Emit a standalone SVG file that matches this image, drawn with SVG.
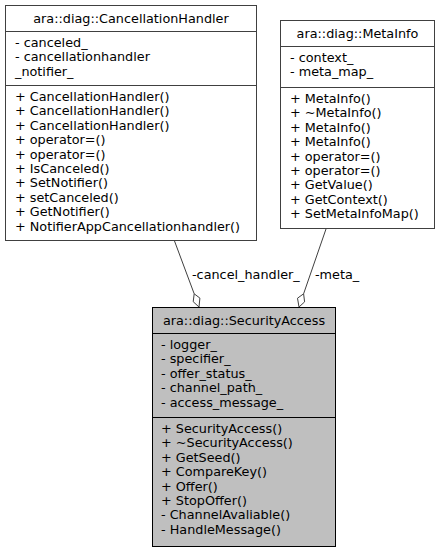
<svg xmlns="http://www.w3.org/2000/svg" width="440" height="551" viewBox="0 0 440 551">
<style>
text{font-family:"DejaVu Sans","Liberation Sans",sans-serif;font-size:12.8px;fill:#000}
.t{text-anchor:middle}
.box{fill:#fff;stroke:#404040;stroke-width:1}
.cur{fill:#bfbfbf;stroke:#000;stroke-width:1}
.sep{stroke:#404040;stroke-width:1}
.sepc{stroke:#000;stroke-width:1}
.edge{stroke:#404040;stroke-width:1;fill:none}
.dia{fill:#fff;stroke:#404040;stroke-width:1}
</style>
<rect width="440" height="551" fill="#fff"/>
<g id="connectors">
<path class="edge" d="M174.5,241 L194.2,293.8"/>
<path class="dia" d="M199,307 L199.9,298.1 L194.2,293.8 L193.2,301.7 Z"/>
<text x="192" y="279">-cancel_handler_</text>
<path class="edge" d="M326,229 L303.6,293.8"/>
<path class="dia" d="M299,307 L297.5,298.2 L303.6,293.8 L304.6,301.9 Z"/>
<text x="315" y="279">-meta_</text>
</g>
<g id="CancellationHandler">
<rect class="box" x="5.5" y="5.5" width="251" height="235"/>
<line class="sep" x1="5.5" y1="31.5" x2="256.5" y2="31.5"/>
<line class="sep" x1="5.5" y1="85.5" x2="256.5" y2="85.5"/>
<text class="t" x="131" y="23">ara::diag::CancellationHandler</text>
<text x="15" y="47">- canceled_</text>
<text x="15" y="61.4">- cancellationhandler</text>
<text x="15" y="75.8">_notifier_</text>
<text x="15" y="101">+ CancellationHandler()</text>
<text x="15" y="115.4">+ CancellationHandler()</text>
<text x="15" y="129.8">+ CancellationHandler()</text>
<text x="15" y="144.2">+ operator=()</text>
<text x="15" y="158.6">+ operator=()</text>
<text x="15" y="173">+ IsCanceled()</text>
<text x="15" y="187.4">+ SetNotifier()</text>
<text x="15" y="201.8">+ setCanceled()</text>
<text x="15" y="216.2">+ GetNotifier()</text>
<text x="15" y="230.6">+ NotifierAppCancellationhandler()</text>
</g>
<g id="MetaInfo">
<rect class="box" x="280.5" y="20.5" width="154" height="208"/>
<line class="sep" x1="280.5" y1="46.5" x2="434.5" y2="46.5"/>
<line class="sep" x1="280.5" y1="87.5" x2="434.5" y2="87.5"/>
<text class="t" x="357.5" y="38">ara::diag::MetaInfo</text>
<text x="290" y="62">- context_</text>
<text x="290" y="76.4">- meta_map_</text>
<text x="290" y="103">+ MetaInfo()</text>
<text x="290" y="117.4">+ ~MetaInfo()</text>
<text x="290" y="131.8">+ MetaInfo()</text>
<text x="290" y="146.2">+ MetaInfo()</text>
<text x="290" y="160.6">+ operator=()</text>
<text x="290" y="175">+ operator=()</text>
<text x="290" y="189.4">+ GetValue()</text>
<text x="290" y="203.8">+ GetContext()</text>
<text x="290" y="218.2">+ SetMetaInfoMap()</text>
</g>
<g id="SecurityAccess">
<rect class="cur" x="152.5" y="307.5" width="183" height="239"/>
<line class="sepc" x1="152.5" y1="333.5" x2="335.5" y2="333.5"/>
<line class="sepc" x1="152.5" y1="417.5" x2="335.5" y2="417.5"/>
<text class="t" x="244" y="325">ara::diag::SecurityAccess</text>
<text x="161" y="349">- logger_</text>
<text x="161" y="363.4">- specifier_</text>
<text x="161" y="377.8">- offer_status_</text>
<text x="161" y="392.2">- channel_path_</text>
<text x="161" y="406.6">- access_message_</text>
<text x="161" y="433">+ SecurityAccess()</text>
<text x="161" y="447.4">+ ~SecurityAccess()</text>
<text x="161" y="461.8">+ GetSeed()</text>
<text x="161" y="476.2">+ CompareKey()</text>
<text x="161" y="490.6">+ Offer()</text>
<text x="161" y="505">+ StopOffer()</text>
<text x="161" y="519.4">- ChannelAvaliable()</text>
<text x="161" y="533.8">- HandleMessage()</text>
</g>
</svg>
